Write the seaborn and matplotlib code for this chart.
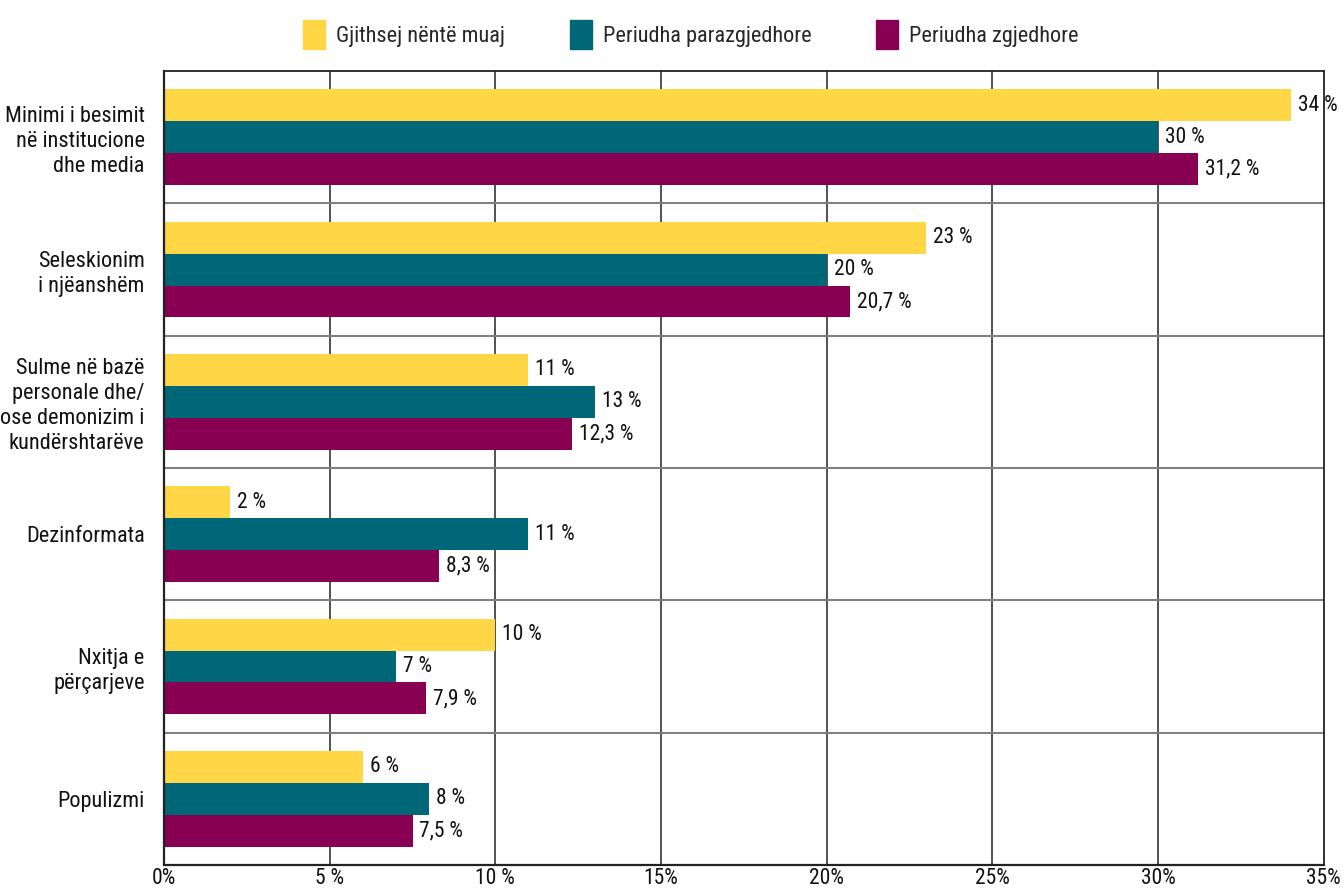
import pandas as pd
import numpy as np
import seaborn as sns
import matplotlib.pyplot as plt
from matplotlib import font_manager

# data
categories = ["Minimi i besimit\nnë institucione\ndhe media",
              "Seleskionim\ni njëanshëm",
              "Sulme në bazë\npersonale dhe/\nose demonizim i\nkundërshtarëve",
              "Dezinformata",
              "Nxitja e\npërçarjeve",
              "Populizmi"]
series = ["Gjithsej nëntë muaj", "Periudha parazgjedhore", "Periudha zgjedhore"]
gjithsej = [34, 23, 11, 2, 10, 6]
parazgjedhore = [30, 20, 13, 11, 7, 8]
zgjedhore = [31.2, 20.7, 12.3, 8.3, 7.9, 7.5]
xticks = [0, 5, 10, 15, 20, 25, 30, 35]
xticklabels = ["0%", "5 %", "10 %", "15%", "20%", "25%", "30%", "35%"]
colors = ["#FFD646", "#006778", "#870052"]

df = pd.DataFrame({
    "kategoria": categories * 3,
    "seria": [s for s in series for _ in categories],
    "vlera": gjithsej + parazgjedhore + zgjedhore,
})

sns.set_theme(style="white")
names = {f.name for f in font_manager.fontManager.ttflist}
fam = [f for f in ["Liberation Sans Narrow", "Roboto Condensed", "Open Sans Condensed"] if f in names]
plt.rcParams['font.family'] = fam + ["DejaVu Sans"]

fig, ax = plt.subplots(figsize=(13.44, 8.89), dpi=100)
fig.subplots_adjust(left=0.122, right=0.985, top=0.92, bottom=0.027)

sns.barplot(data=df, y="kategoria", x="vlera", hue="seria", orient="h",
            palette=colors, width=0.724, saturation=1, linewidth=0,
            ax=ax, legend=False)

for cont, s in zip(ax.containers, series):
    labs = [f"{v:g}".replace(".", ",") + " %" for v in df[df.seria == s].vlera]
    ax.bar_label(cont, labels=labs, padding=5, fontsize=15.5, color="#111111")

ax.set_xlim(0, 35)
ax.set_ylim(5.5, -0.5)
ax.set_xticks(xticks)
ax.set_xticklabels(xticklabels, fontsize=15.5, color="#111111")
ax.set_yticks(range(len(categories)))
ax.set_yticklabels(categories, fontsize=16, linespacing=1.25, color="#111111")
ax.set_xlabel("")
ax.set_ylabel("")
ax.tick_params(axis="x", length=6, width=1, color="#222222", pad=2, direction="in")
ax.tick_params(axis="y", length=0, pad=14)

# grid: dark vertical lines, grey category separators
for x in xticks[1:-1]:
    ax.axvline(x, color="#333333", lw=1.2, zorder=0)
for y in np.arange(0.5, 5.5, 1):
    ax.axhline(y, color="#808080", lw=1.5, zorder=0)

for side in ["top", "right", "left", "bottom"]:
    ax.spines[side].set_visible(True)
    ax.spines[side].set_color("#222222")
    ax.spines[side].set_linewidth(1.3)
ax.spines["left"].set_linewidth(1.6)
ax.spines["bottom"].set_linewidth(1.6)

handles = [plt.Rectangle((0, 0), 1, 1, color=c) for c in colors]
fig.legend(handles, series, loc="upper center", bbox_to_anchor=(0.514, 1.0), ncol=3,
           frameon=False, fontsize=16, handlelength=1.0, handleheight=1.6,
           columnspacing=2.9, handletextpad=0.5)

fig.savefig("out.png", dpi=100)
